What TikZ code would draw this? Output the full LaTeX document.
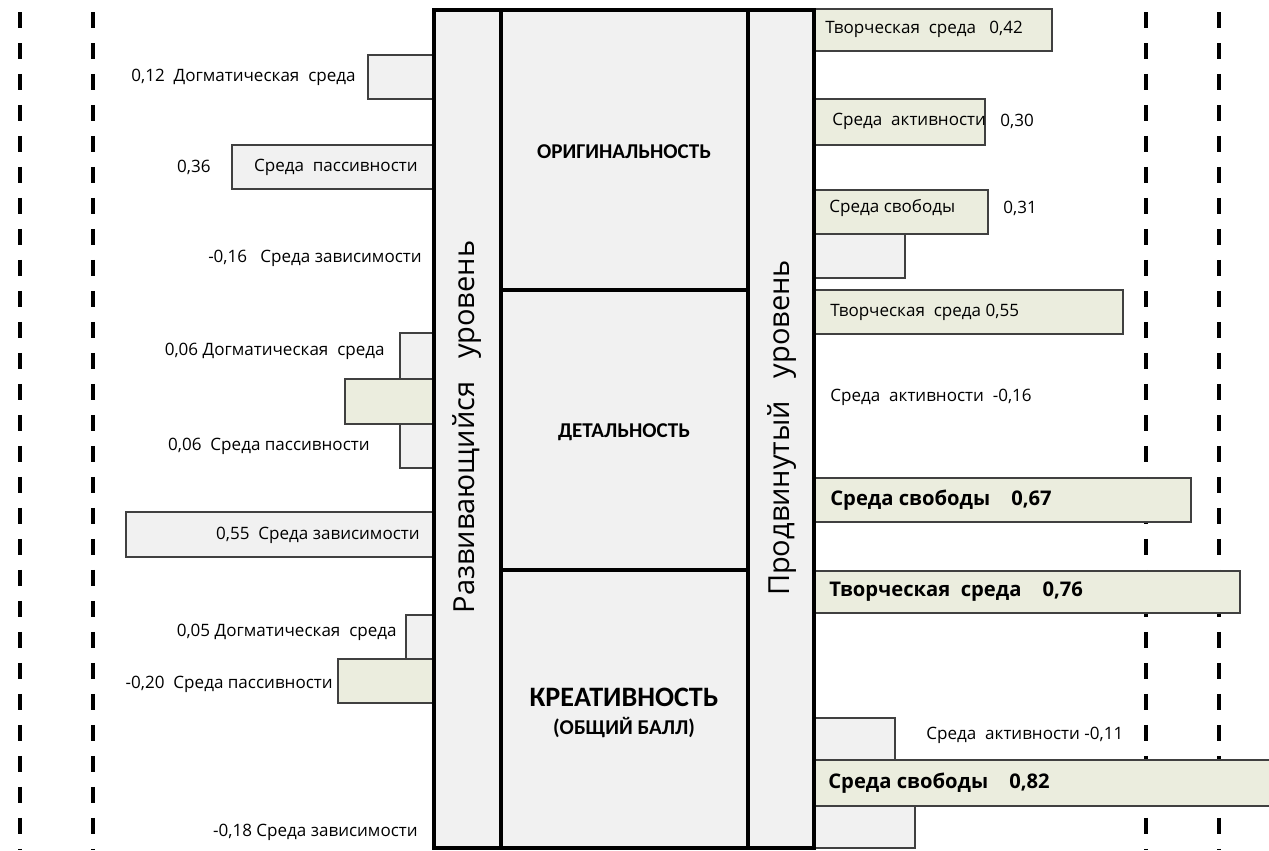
\documentclass[tikz,border=0pt]{standalone}
\usepackage{fontspec}
\setmainfont{Open Sans}
\newfontfamily\headfont{Carlito}
\definecolor{barGreen}{RGB}{235,237,222}
\definecolor{barGray}{RGB}{241,241,241}
\begin{document}
\begin{tikzpicture}
[x=0.02cm,y=-0.02cm,
  graybar/.style={draw=black!75,line width=0.8pt,fill=barGray},%
  greenbar/.style={draw=black!75,line width=0.8pt,fill=barGreen},%
  frameline/.style={line width=2.3pt,line cap=rect},%
  guideline/.style={line width=2.8pt,dash pattern=on 0.32cm off 0.3cm},%
  lbl/.style={inner sep=0pt,font=\fontsize{9.7}{11}\selectfont},%
  biglbl/.style={inner sep=0pt,font=\fontsize{11.5}{13}\selectfont\bfseries},%
  head/.style={inner sep=0pt,font=\headfont\bfseries\fontsize{12}{14}\selectfont},%
  level/.style={inner sep=0pt,rotate=90,font=\fontsize{16.5}{18}\selectfont}]
\useasboundingbox (0,0) rectangle (1269,850);
%% dashed guide lines
\foreach \x in {20,93,1146,1219} {
  \draw[guideline] (\x,12) -- (\x,850);
}
%% bars on the left
\foreach \xa/\ya/\yb in {368/55/99, 232/145/189, 400/333/379,
  400/424/468, 126/512/557, 406/615/659} {
  \draw[graybar] (\xa,\ya) rectangle (434,\yb);
}
\foreach \xa/\ya/\yb in {345/379/424, 338/659/703} {
  \draw[greenbar] (\xa,\ya) rectangle (434,\yb);
}
%% bars on the right
\foreach \xb/\ya/\yb in {1052/9/51, 985/99/145, 988/190/234,
  1123/290/334, 1191/478/522, 1240/571/613, 1272/760/806} {
  \draw[greenbar] (814,\ya) rectangle (\xb,\yb);
}
\foreach \xb/\ya/\yb in {905/234/278, 895/718/760, 915/806/848} {
  \draw[graybar] (814,\ya) rectangle (\xb,\yb);
}
%% central frame
\draw[frameline,fill=barGray] (434,10) rectangle (814,848);
\draw[frameline] (501,10) -- (501,848);
\draw[frameline] (748,10) -- (748,848);
\draw[frameline] (501,290) -- (748,290);
\draw[frameline] (501,570) -- (748,570);
\node[level] (devlevel) at (467,427) {Развивающийся~ ~уровень};
\node[level] (advlevel) at (782,428) {Продвинутый~ ~уровень};
\node[head] (orig) at (624,152) {ОРИГИНАЛЬНОСТЬ};
\node[head] (detail) at (624,432) {ДЕТАЛЬНОСТЬ};
\node[head,font=\headfont\bfseries\fontsize{16}{18}\selectfont] (creat) at (624,697) {КРЕАТИВНОСТЬ};
\node[head,font=\headfont\bfseries\fontsize{12}{14}\selectfont] (total) at (624,727) {(ОБЩИЙ БАЛЛ)};
%% labels on the left
\foreach \name/\x/\y/\txt in {dogA/356/77/{0,12~ Догматическая~ среда},
  pasA/418/167/{Среда~ пассивности}, numA/211/167/{0,36},
  depA/422/258/{-0,16~ ~Среда зависимости},
  dogB/385/351/{0,06 Догматическая~ среда},
  pasB/370/446/{0,06~ Среда пассивности},
  depB/420/535/{0,55~ Среда зависимости},
  dogC/397/632/{0,05 Догматическая~ среда},
  pasC/333/684/{-0,20~ Среда пассивности},
  depC/418/832/{-0,18 Среда зависимости}} {
  \node[lbl,anchor=east] (\name) at (\x,\y) {\txt};
}
%% labels on the right
\foreach \name/\x/\y/\txt in {creA/825/29/{Творческая~ среда~ ~0,42},
  actA/832/121/{Среда~ активности}, numB/1000/121/{0,30},
  freA/829/208/{Среда свободы}, numC/1003/208/{0,31},
  creB/830/312/{Творческая~ среда 0,55},
  actB/830/397/{Среда~ активности~ -0,16},
  actC/926/735/{Среда~ активности -0,11}} {
  \node[lbl,anchor=west] (\name) at (\x,\y) {\txt};
}
\node[biglbl,anchor=west] (freB) at (830,500) {Среда свободы~ ~ 0,67};
\node[biglbl,anchor=west] (creC) at (829,592) {Творческая~ среда~ ~ 0,76};
\node[biglbl,anchor=west] (freC) at (828,783) {Среда свободы~ ~ 0,82};
\end{tikzpicture}
\end{document}
